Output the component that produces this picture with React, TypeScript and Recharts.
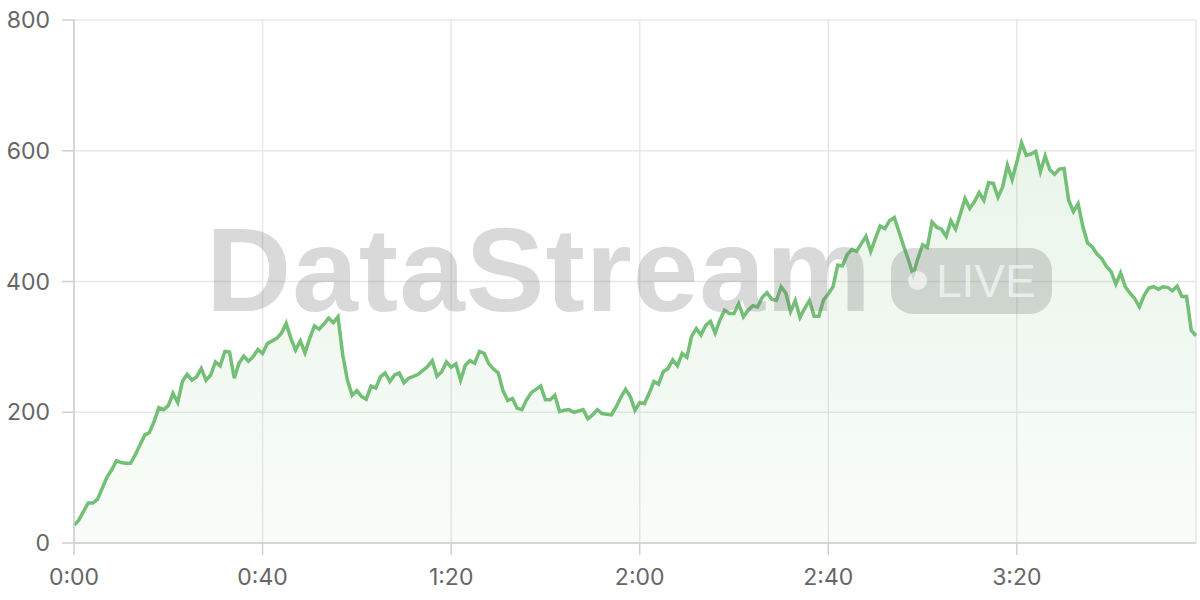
import { AreaChart, Area, XAxis, YAxis, CartesianGrid } from "recharts";

// one reading per minute, starting at 0:00
const values = [
  27, 35, 48, 61, 61, 67, 84, 101, 112, 126, 123, 122, 122, 135, 150, 165, 169, 186, 207, 204,
  210, 229, 215, 247, 258, 249, 254, 267, 249, 257, 277, 271, 293, 292, 252, 275, 286, 278, 285, 296,
  290, 305, 309, 313, 321, 336, 313, 295, 309, 291, 313, 332, 327, 335, 344, 337, 346, 288, 249, 226,
  233, 224, 220, 240, 237, 254, 260, 247, 257, 260, 245, 252, 255, 258, 264, 270, 279, 255, 262, 277,
  269, 274, 249, 272, 279, 275, 293, 290, 274, 266, 260, 233, 218, 221, 206, 204, 219, 230, 235, 240,
  219, 219, 226, 201, 203, 204, 200, 202, 204, 190, 196, 204, 198, 197, 196, 208, 223, 235, 224, 203,
  215, 213, 229, 247, 243, 262, 267, 280, 271, 290, 284, 316, 328, 318, 333, 339, 321, 341, 356, 351,
  351, 366, 346, 356, 363, 361, 376, 383, 373, 371, 392, 382, 354, 371, 345, 359, 371, 347, 347, 372,
  381, 392, 425, 424, 441, 449, 446, 458, 469, 446, 466, 485, 481, 493, 498, 476, 454, 433, 410, 435,
  456, 452, 491, 483, 480, 469, 493, 480, 503, 527, 512, 522, 536, 524, 551, 550, 529, 545, 578, 556,
  583, 612, 593, 595, 599, 568, 592, 571, 564, 572, 573, 524, 507, 519, 484, 459, 453, 442, 435, 423,
  415, 396, 413, 392, 382, 374, 361, 379, 390, 392, 388, 392, 391, 386, 393, 377, 377, 325, 317,
];

const xTicks = [0, 40, 80, 120, 160, 200];
const xTickLabels = ["0:00", "0:40", "1:20", "2:00", "2:40", "3:20"];
const yTicks = [0, 200, 400, 600, 800];

const data = values.map((value, minute) => ({ minute, value }));

const LINE = "#72bf75";
const FONT = "Inter, 'Liberation Sans', sans-serif";

export default function App() {
  return (
    <div style={{ position: "absolute", left: 0, top: 0, width: 1200, height: 600, background: "#fff" }}>
      <AreaChart width={1200} height={600} data={data} margin={{ top: 20, right: 4, left: 0, bottom: 0 }}>
        <defs>
          <linearGradient id="fillGreen" x1="0" y1="0" x2="0" y2="1">
            <stop offset="0%" stopColor={LINE} stopOpacity={0.26} />
            <stop offset="100%" stopColor={LINE} stopOpacity={0.07} />
          </linearGradient>
        </defs>
        <CartesianGrid stroke="#e8e8e8" strokeWidth={1.5} />
        <XAxis
          dataKey="minute"
          type="number"
          domain={[0, 238]}
          ticks={xTicks}
          tickFormatter={(v: number) => xTickLabels[xTicks.indexOf(v)]}
          height={57}
          tickSize={12}
          tickMargin={14}
          stroke="#cfcfcf"
          strokeWidth={1.5}
          tick={{ fill: "#666", fontSize: 23, fontFamily: FONT }}
        />
        <YAxis
          domain={[0, 800]}
          ticks={yTicks}
          width={74}
          tickSize={12}
          tickMargin={12}
          stroke="#cfcfcf"
          strokeWidth={1.5}
          tick={{ fill: "#666", fontSize: 23, fontFamily: FONT }}
        />
        <Area
          type="linear"
          dataKey="value"
          stroke={LINE}
          strokeWidth={3.5}
          fill="url(#fillGreen)"
          dot={false}
          activeDot={false}
          isAnimationActive={false}
        />
      </AreaChart>

      {/* watermark overlay */}
      <div
        style={{
          position: "absolute",
          left: 206,
          top: 200,
          fontFamily: "'Liberation Sans', Arial, sans-serif",
          fontWeight: 700,
          fontSize: 118,
          letterSpacing: 1,
          color: "rgba(120,120,120,0.28)",
          lineHeight: "140px",
          pointerEvents: "none",
          whiteSpace: "nowrap",
        }}
      >
        DataStream
      </div>
      <div
        style={{
          position: "absolute",
          left: 891,
          top: 248,
          width: 161,
          height: 66,
          borderRadius: 22,
          background: "rgba(120,120,120,0.27)",
          pointerEvents: "none",
        }}
      >
        <div
          style={{
            position: "absolute",
            left: 17,
            top: 23,
            width: 19,
            height: 19,
            borderRadius: "50%",
            background: "rgba(255,255,255,0.6)",
          }}
        />
        <div
          style={{
            position: "absolute",
            left: 45,
            top: 0,
            height: 66,
            lineHeight: "66px",
            fontFamily: "'Liberation Sans', Arial, sans-serif",
            fontSize: 46,
            color: "rgba(255,255,255,0.6)",
            whiteSpace: "nowrap",
          }}
        >
          LIVE
        </div>
      </div>
    </div>
  );
}
